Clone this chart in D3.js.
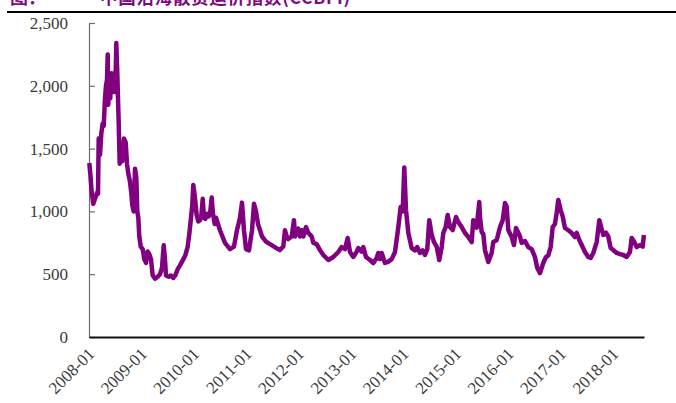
<!DOCTYPE html>
<html>
<head>
<meta charset="utf-8">
<script src="https://cdn.jsdelivr.net/npm/d3@7"></script>
<style>
  html, body { margin: 0; padding: 0; background: #fff; }
  svg { display: block; }
</style>
</head>
<body>
<svg id="chart" width="676" height="403"></svg>
<script>
// Freight index, 2008-01 to 2018-08 (time as decimal years)
const years = [
  2008.006, 2008.025, 2008.052, 2008.082, 2008.115, 2008.153, 2008.172, 2008.185, 2008.210, 2008.235,
  2008.261, 2008.281, 2008.305, 2008.324, 2008.344, 2008.357, 2008.368, 2008.387, 2008.406, 2008.426,
  2008.452, 2008.477, 2008.502, 2008.521, 2008.540, 2008.567, 2008.586, 2008.611, 2008.635, 2008.668,
  2008.700, 2008.725, 2008.750, 2008.777, 2008.807, 2008.826, 2008.853, 2008.878, 2008.903, 2008.922,
  2008.941, 2008.960, 2008.987, 2009.025, 2009.055, 2009.088, 2009.120, 2009.151, 2009.183, 2009.216,
  2009.260, 2009.311, 2009.355, 2009.393, 2009.426, 2009.450, 2009.469, 2009.521, 2009.565, 2009.609,
  2009.647, 2009.693, 2009.737, 2009.788, 2009.838, 2009.884, 2009.914, 2009.947, 2009.971, 2009.990,
  2010.010, 2010.029, 2010.055, 2010.086, 2010.118, 2010.143, 2010.170, 2010.195, 2010.219, 2010.252,
  2010.284, 2010.315, 2010.342, 2010.366, 2010.399, 2010.424, 2010.500, 2010.595, 2010.691, 2010.767,
  2010.824, 2010.882, 2010.920, 2010.958, 2010.996, 2011.053, 2011.111, 2011.149, 2011.187, 2011.225,
  2011.302, 2011.378, 2011.454, 2011.531, 2011.607, 2011.645, 2011.708, 2011.740, 2011.773, 2011.803,
  2011.868, 2011.912, 2011.931, 2011.994, 2012.027, 2012.059, 2012.090, 2012.141, 2012.185, 2012.250,
  2012.281, 2012.345, 2012.408, 2012.472, 2012.567, 2012.662, 2012.758, 2012.822, 2012.885, 2012.937,
  2012.981, 2013.044, 2013.109, 2013.139, 2013.204, 2013.235, 2013.286, 2013.363, 2013.426, 2013.490,
  2013.521, 2013.553, 2013.586, 2013.649, 2013.712, 2013.777, 2013.840, 2013.903, 2013.948, 2013.987,
  2014.017, 2014.050, 2014.094, 2014.158, 2014.221, 2014.265, 2014.317, 2014.368, 2014.412, 2014.456,
  2014.494, 2014.540, 2014.584, 2014.635, 2014.685, 2014.731, 2014.761, 2014.807, 2014.845, 2014.889,
  2014.941, 2015.004, 2015.048, 2015.113, 2015.176, 2015.239, 2015.303, 2015.334, 2015.399, 2015.448,
  2015.462, 2015.494, 2015.525, 2015.557, 2015.620, 2015.685, 2015.715, 2015.780, 2015.844, 2015.895,
  2015.939, 2015.971, 2016.002, 2016.067, 2016.111, 2016.149, 2016.193, 2016.225, 2016.258, 2016.321,
  2016.384, 2016.448, 2016.511, 2016.555, 2016.607, 2016.670, 2016.721, 2016.765, 2016.811, 2016.849,
  2016.893, 2016.925, 2016.956, 2017.002, 2017.040, 2017.084, 2017.147, 2017.212, 2017.275, 2017.307,
  2017.357, 2017.403, 2017.466, 2017.529, 2017.575, 2017.624, 2017.689, 2017.739, 2017.784, 2017.815,
  2017.866, 2017.910, 2017.956, 2018.006, 2018.071, 2018.134, 2018.197, 2018.261, 2018.324, 2018.357,
  2018.401, 2018.452, 2018.515, 2018.567, 2018.590
];
const values = [
  1385, 1300, 1150, 1060, 1100, 1150, 1140, 1580, 1450, 1620,
  1700, 1680, 1900, 2000, 2050, 2250, 1850, 2050, 1900, 2100,
  1950, 2100, 1950, 2340, 2100, 1700, 1380, 1420, 1400, 1580,
  1550, 1380, 1300, 1250, 1150, 1050, 1000, 1340, 1270, 1000,
  950, 800, 720, 700, 620, 590, 680, 660, 620, 490,
  465, 480, 500, 550, 730, 620, 490, 480, 490, 470,
  490, 540, 570, 610, 650, 720, 820, 950, 1050, 1210,
  1150, 1080, 970, 920, 930, 960, 1100, 950, 940, 980,
  960, 1000, 1110, 980, 900, 950, 850, 750, 700, 720,
  850, 950, 1070, 850, 700, 690, 850, 1060, 1000, 900,
  800, 760, 740, 720, 700, 692, 720, 850, 800, 780,
  800, 930, 800, 863, 800, 850, 800, 875, 830, 800,
  750, 740, 692, 653, 613, 637, 677, 716, 700, 788,
  677, 637, 680, 708, 680, 716, 637, 613, 589, 629,
  669, 620, 669, 589, 600, 620, 677, 875, 1035, 1000,
  1350, 1010, 828, 708, 690, 716, 669, 690, 653, 700,
  930, 812, 756, 720, 613, 716, 828, 875, 971, 875,
  851, 955, 915, 875, 828, 796, 756, 930, 870, 1075,
  955, 836, 820, 692, 597, 669, 756, 770, 875, 930,
  1067, 1040, 852, 796, 732, 868, 830, 800, 750, 764,
  716, 700, 637, 549, 509, 589, 637, 650, 716, 875,
  900, 987, 1090, 1010, 960, 868, 850, 828, 796, 830,
  772, 732, 677, 637, 629, 669, 756, 930, 860, 812,
  830, 800, 708, 692, 669, 660, 653, 637, 677, 788,
  760, 716, 732, 720, 812
];
const yTicks = [0, 500, 1000, 1500, 2000, 2500];
const xTicks = [2008, 2009, 2010, 2011, 2012, 2013, 2014, 2015, 2016, 2017, 2018];
const titleLead = "图：";
const titleMain = "中国沿海散货运价指数(CCBFI)";

const svg = d3.select("#chart");
const margin = { left: 89, right: 32, top: 23, bottom: 66 };
const W = 676, H = 403;

const x = d3.scaleLinear()
  .domain([2008, 2018.592])
  .range([margin.left, W - margin.right]);
const y = d3.scaleLinear()
  .domain([0, 2500])
  .range([H - margin.bottom, margin.top]);

const serif = "'Liberation Serif', 'Times New Roman', serif";
const cjk = "'Noto Sans CJK SC', sans-serif";

// Title (its upper part runs off the top edge) and the rule beneath it
const purple = "#7d0a80";
svg.append("text")
  .attr("x", 10).attr("y", 4)
  .attr("fill", purple)
  .style("font-family", cjk)
  .style("font-weight", "bold")
  .style("font-size", "18px")
  .text(titleLead);
svg.append("text")
  .attr("x", 100).attr("y", 4)
  .attr("fill", purple)
  .attr("textLength", 250)
  .attr("lengthAdjust", "spacing")
  .style("font-family", cjk)
  .style("font-weight", "bold")
  .style("font-size", "17.5px")
  .text(titleMain);
svg.append("line")
  .attr("x1", 7).attr("x2", W)
  .attr("y1", 12).attr("y2", 12)
  .attr("stroke", "#000").attr("stroke-width", 2);

// Y axis
const yAxis = d3.axisLeft(y)
  .tickValues(yTicks)
  .tickSize(-6)
  .tickPadding(21)
  .tickFormat(d3.format(","));
const gy = svg.append("g")
  .attr("transform", `translate(${margin.left},0)`)
  .call(yAxis);
gy.select(".domain").attr("stroke", "#6e6e6e").attr("stroke-width", 1.2);
gy.selectAll(".tick line").attr("stroke", "#6e6e6e").attr("stroke-width", 1.2);
gy.selectAll(".tick text")
  .attr("fill", "#3a3a3a")
  .style("font-family", serif)
  .style("font-size", "17px");

// X axis
const xAxis = d3.axisBottom(x)
  .tickValues(xTicks)
  .tickSize(0)
  .tickFormat(d => `${d}-01`);
const gx = svg.append("g")
  .attr("transform", `translate(0,${y(0)})`)
  .call(xAxis);
gx.select(".domain").attr("stroke", "#111").attr("stroke-width", 2.2);
gx.selectAll(".tick text")
  .attr("fill", "#3a3a3a")
  .style("font-family", serif)
  .style("font-size", "17px")
  .attr("text-anchor", "end")
  .attr("dy", null)
  .attr("y", 0)
  .attr("transform", "translate(6,18) rotate(-45)");

// Index line
const series = years.map((t, i) => ({ t, v: values[i] }));
const line = d3.line()
  .x(d => x(d.t))
  .y(d => y(d.v));
svg.append("path")
  .datum(series)
  .attr("fill", "none")
  .attr("stroke", "#800080")
  .attr("stroke-width", 4.5)
  .attr("stroke-linejoin", "round")
  .attr("d", line);
</script>
</body>
</html>
